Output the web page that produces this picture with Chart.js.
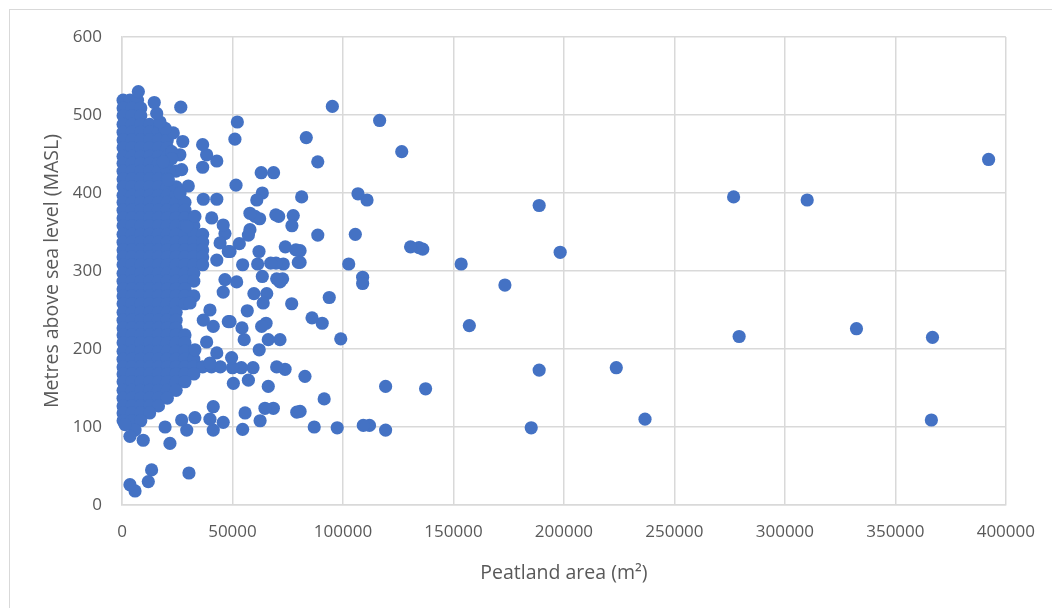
<!DOCTYPE html>
<html>
<head>
<meta charset="utf-8">
<title>Peatland area vs elevation</title>
<script src="https://cdn.jsdelivr.net/npm/chart.js@4.4.0/dist/chart.umd.min.js"></script>
<style>
  html, body { margin: 0; padding: 0; background: #fff; }
  #wrap { position: relative; width: 1052px; height: 608px; overflow: hidden; }
  #frame { position: absolute; left: 9px; top: 9px; width: 1100px; height: 700px; border: 1px solid #d9d9d9; box-sizing: border-box; }
  #chart { position: absolute; left: 0; top: 0; }
</style>
</head>
<body>
<div id="wrap">
  <div id="frame"></div>
  <canvas id="chart" width="1052" height="608"></canvas>
</div>
<script>
// axis ticks
const xTickLabels = ['0', '50000', '100000', '150000', '200000', '250000', '300000', '350000', '400000'];
const yTickLabels = ['0', '100', '200', '300', '400', '500', '600'];

// dense cluster of small peatlands: one elevation per row, the areas read along that row
const clusterElev = [519, 509, 499, 488, 478, 468, 458, 447, 438, 428, 418, 408, 397, 388, 378, 368, 358, 347, 337, 327, 318,
  308, 297, 287, 277, 268, 258, 247, 237, 227, 218, 208, 197, 187, 177, 168, 158, 147, 137, 127, 118, 108];
const clusterAreas = [
  [500, 3600, 7000],
  [500, 4500, 8500],
  [500, 4500, 8500],
  [500, 4500, 8500, 12500, 17000],
  [500, 4500, 8500, 12500, 16500, 19500],
  [500, 4500, 8500, 12500, 16500, 20500],
  [500, 4500, 8500, 12500, 16500, 20500],
  [500, 4500, 8500, 12500, 16500, 20500],
  [500, 4500, 8500, 12500, 16500, 20500],
  [500, 4500, 8500, 12500, 16500, 20500, 24500],
  [500, 4500, 8500, 12500, 16500, 20500],
  [500, 4500, 8500, 12500, 16500, 20500, 24500],
  [500, 4500, 8500, 12500, 16500, 20500, 24500],
  [500, 4500, 8500, 12500, 16500, 20500, 24500, 28500],
  [500, 4500, 8500, 12500, 16500, 20500, 24500, 28500],
  [500, 4500, 8500, 12500, 16500, 20500, 24500, 28500, 32500],
  [500, 4500, 8500, 12500, 16500, 20500, 24500, 28500, 32500],
  [500, 4500, 8500, 12500, 16500, 20500, 24500, 28500, 32500, 36500],
  [500, 4500, 8500, 12500, 16500, 20500, 24500, 28500, 32500, 36500],
  [500, 4500, 8500, 12500, 16500, 20500, 24500, 28500, 32500, 36500],
  [500, 4500, 8500, 12500, 16500, 20500, 24500, 28500, 32500, 36500],
  [500, 4500, 8500, 12500, 16500, 20500, 24500, 28500, 32500, 36500],
  [500, 4500, 8500, 12500, 16500, 20500, 24500, 28500, 32500],
  [500, 4500, 8500, 12500, 16500, 20500, 24500, 28500, 32500],
  [500, 4500, 8500, 12500, 16500, 20500, 24500, 28500],
  [500, 4500, 8500, 12500, 16500, 20500, 24500, 28500, 32500],
  [500, 4500, 8500, 12500, 16500, 20500, 24500, 28500],
  [500, 4500, 8500, 12500, 16500, 20500, 24500],
  [500, 4500, 8500, 12500, 16500, 20500, 24500],
  [500, 4500, 8500, 12500, 16500, 20500, 24500],
  [500, 4500, 8500, 12500, 16500, 20500, 24500, 28500],
  [500, 4500, 8500, 12500, 16500, 20500, 24500, 28500],
  [500, 4500, 8500, 12500, 16500, 20500, 24500, 28500],
  [500, 4500, 8500, 12500, 16500, 20500, 24500, 28500, 32500],
  [500, 4500, 8500, 12500, 16500, 20500, 24500, 28500, 32500, 36500, 40500, 44500],
  [500, 4500, 8500, 12500, 16500, 20500, 24500, 28500, 32500],
  [500, 4500, 8500, 12500, 16500, 20500, 24500, 28500],
  [500, 4500, 8500, 12500, 16500, 20500, 24500],
  [500, 4500, 8500, 12500, 16500, 20500],
  [500, 4500, 8500, 12500, 16500],
  [500, 4500, 8500, 12500],
  [500, 4500, 8500]
];

// scattered peatlands outside the cluster
const outlierArea = [392200, 276800, 310100, 279300, 332400, 366800, 366300, 236700, 223700, 188800, 188800, 198300, 185200,
  173300, 157200, 153500, 137400, 136100, 134400, 130600, 126600, 119300, 119300, 116600, 112000, 109200, 108900, 108900,
  110900, 106800, 105600, 102600, 99000, 97400, 95200, 93800, 91500, 90600, 88600, 88600, 87000, 86000, 83400, 82800,
  81300, 80600, 80600, 80600, 79800, 79100, 78700, 77500, 76900, 76800, 73900, 73800, 73000, 72700, 71500, 71500, 70900,
  70000, 70000, 69700, 69600, 68600, 68500, 67300, 66200, 66200, 65500, 65200, 64700, 63900, 63500, 63500, 63200, 63000,
  62500, 62300, 62100, 62000, 61400, 61000, 60200, 59700, 59300, 57900, 57900, 57200, 57200, 56700, 55700, 55300, 54600,
  54600, 54300, 54000, 53100, 52200, 51900, 51600, 51100, 50400, 50000, 49600, 48900, 48900, 48100, 48100, 46600, 46600,
  45800, 45800, 45800, 44400, 42900, 42900, 42900, 42900, 41300, 41300, 41300, 40600, 39800, 39800, 39800, 38300, 38300,
  36800, 36800, 36500, 36500, 33000, 33000, 33000, 30800, 30300, 30000, 29300, 29300, 27500, 27000, 27000, 26600, 26300,
  26200, 23200, 22500, 22500, 21700, 21000, 19500, 19500, 18700, 17200, 15700, 14600, 13400, 11900, 9600, 7400, 5900,
  5900, 3600, 3600, 1400];
const outlierElev = [443, 395, 391, 216, 226, 215, 109, 110, 176, 173, 384, 324, 99,
  282, 230, 309, 149, 328, 330, 331, 453, 152, 96, 493, 102, 102, 292, 284,
  391, 399, 347, 309, 213, 99, 511, 266, 136, 233, 440, 346, 100, 240, 471, 165,
  395, 326, 311, 120, 311, 119, 327, 371, 358, 258, 331, 174, 309, 290, 286, 212, 370,
  290, 177, 310, 372, 426, 124, 310, 212, 152, 271, 233, 124, 259, 400, 293, 229, 426,
  108, 367, 199, 325, 309, 391, 370, 271, 176, 374, 353, 346, 160, 249, 118, 212, 308,
  97, 227, 176, 335, 491, 286, 410, 469, 156, 176, 189, 325, 235, 325, 235, 348, 289,
  359, 273, 106, 336, 441, 392, 314, 195, 229, 126, 96, 368, 250, 182, 110, 449, 209,
  392, 237, 462, 433, 370, 199, 112, 259, 41, 409, 357, 96, 466, 430, 109, 510, 400,
  449, 477, 453, 444, 79, 417, 483, 100, 440, 491, 502, 516, 45, 30, 83, 530, 96,
  18, 88, 26, 103];

const points = [];
clusterElev.forEach((elev, i) => {
  clusterAreas[i].forEach(area => points.push({ x: area, y: elev }));
});
outlierArea.forEach((area, i) => points.push({ x: area, y: outlierElev[i] }));

const textColor = '#595959';
const gridColor = '#d9d9d9';

new Chart(document.getElementById('chart'), {
  type: 'scatter',
  data: {
    datasets: [{
      data: points,
      backgroundColor: '#4472C4',
      borderColor: '#4472C4',
      borderWidth: 0,
      pointRadius: 6.6,
      pointHoverRadius: 6.6,
      clip: false
    }]
  },
  options: {
    responsive: false,
    animation: false,
    events: [],
    layout: { padding: { left: 0, top: 37, right: 46, bottom: 0 } },
    plugins: {
      legend: { display: false },
      tooltip: { enabled: false }
    },
    scales: {
      x: {
        type: 'linear',
        min: 0,
        max: 400000,
        afterFit: (scale) => { scale.height = 103; },
        ticks: {
          stepSize: 50000,
          padding: 17,
          maxRotation: 0,
          color: textColor,
          font: { family: 'Open Sans', size: 17 },
          callback: (value, index) => xTickLabels[index]
        },
        grid: { color: gridColor, lineWidth: 1.5, drawTicks: false },
        border: { color: gridColor, width: 1.5 },
        title: {
          display: true,
          text: 'Peatland area (m²)',
          color: textColor,
          font: { family: 'Open Sans', size: 19.5 },
          padding: { top: 0, bottom: 23 }
        }
      },
      y: {
        type: 'linear',
        min: 0,
        max: 600,
        afterFit: (scale) => { scale.width = 122; },
        ticks: {
          stepSize: 100,
          padding: 20,
          color: textColor,
          font: { family: 'Open Sans', size: 17 },
          callback: (value, index) => yTickLabels[index]
        },
        grid: { color: gridColor, lineWidth: 1.5, drawTicks: false },
        border: { color: gridColor, width: 1.5 },
        title: {
          display: true,
          text: 'Metres above sea level (MASL)',
          color: textColor,
          font: { family: 'Open Sans', size: 19.5 },
          padding: { top: 41, bottom: 0 }
        }
      }
    }
  }
});
</script>
</body>
</html>
